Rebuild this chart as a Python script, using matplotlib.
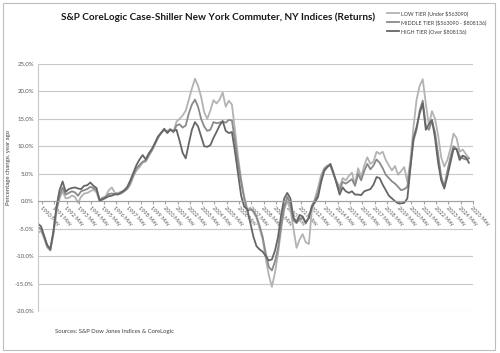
import matplotlib.pyplot as plt
import matplotlib.patches as mpatches
import numpy as np

plt.rcParams["font.family"] = ["Lato", "DejaVu Sans"]

# quarterly samples, year-over-year % change
start_year = 1990.0
high_tier = [
    -4.1, -4.6, -6.3, -8.0, -8.7, -5.5, -1.0, 2.0,
    3.6, 1.7, 2.2, 2.4, 2.5, 2.3, 2.2, 2.8,
    2.9, 3.4, 2.8, 2.4, 0.1, 0.3, 0.6, 0.9,
    1.0, 1.3, 1.2, 1.6, 2.0, 2.6, 3.8, 5.2,
    6.6, 7.6, 8.4, 7.6, 8.7, 9.5, 10.6, 11.8,
    12.4, 13.2, 12.4, 13.0, 12.8, 13.0, 11.0, 8.8,
    7.8, 10.5, 13.0, 14.4, 13.6, 11.8, 10.0, 9.9,
    10.2, 11.5, 12.6, 13.8, 14.6, 12.8, 12.4, 12.6,
    9.0, 5.0, 1.0, -1.0, -1.5, -4.0, -6.5, -8.2,
    -8.8, -9.2, -10.0, -10.8, -10.6, -9.0, -6.5, -2.5,
    0.5, 1.5, 0.5, -3.0, -3.8, -2.5, -2.8, -4.0,
    -3.0, -1.0, -0.2, 0.8, 3.5, 5.5, 6.2, 6.8,
    5.2, 3.2, 1.2, 2.5, 1.8, 1.5, 1.8, 1.2,
    1.2, 1.1, 1.8, 2.0, 2.2, 3.0, 4.4, 4.2,
    3.0, 2.0, 1.0, 0.5, 0.0, -0.4, -0.4, -0.3,
    0.5, 6.0, 11.5, 13.5, 16.0, 17.8, 13.0, 14.0,
    14.8, 11.5, 7.0, 3.8, 2.3, 4.5, 7.0, 9.5,
    9.5, 7.5, 8.3, 8.0, 7.0,
]
middle_tier = [
    -4.8, -5.0, -6.5, -8.2, -8.9, -5.8, -1.5, 1.0,
    2.5, 1.2, 1.5, 1.8, 1.6, 1.0, 1.8, 2.0,
    2.2, 2.6, 2.4, 2.0, 0.3, 0.6, 0.8, 1.3,
    1.4, 1.2, 1.3, 1.4, 1.8, 2.3, 3.4, 4.8,
    6.0, 6.6, 7.2, 7.4, 8.5, 9.3, 10.5, 11.6,
    12.5, 13.0, 12.6, 13.0, 12.6, 13.8, 14.0, 13.4,
    13.8, 16.0, 17.6, 18.5, 17.2, 15.0, 13.6, 12.8,
    13.0, 14.4, 14.2, 14.3, 14.5, 14.3, 14.8, 14.7,
    11.0, 7.0, 3.5, 0.5, -1.8, -1.5, -1.8, -2.8,
    -4.5, -6.5, -9.5, -12.0, -12.6, -11.0, -8.5, -4.5,
    -1.0, 0.8, -0.5, -3.5, -4.0, -3.2, -3.0, -3.8,
    -3.0, -0.8, 0.2, 1.5, 4.0, 5.8, 6.3, 6.6,
    5.0, 3.5, 2.0, 3.5, 3.2, 3.6, 4.0, 2.8,
    5.0, 3.8, 5.5, 6.8, 5.8, 6.5, 7.6, 7.0,
    6.0, 4.8, 4.2, 3.6, 3.2, 2.6, 2.0, 2.2,
    2.6, 6.5, 11.0, 13.0, 16.5, 18.3, 13.8, 13.0,
    14.6, 12.5, 8.5, 4.5, 2.6, 5.5, 8.0, 10.0,
    9.5, 8.2, 7.8, 7.6, 7.8,
]
low_tier = [
    -5.8, -5.4, -6.8, -8.4, -9.0, -6.0, -1.8, 0.5,
    1.8, 0.5, 0.6, 1.0, 0.8, -0.3, 0.8, 1.4,
    1.5, 1.8, 2.1, 1.6, 0.0, 0.5, 0.9, 2.0,
    2.5, 1.5, 1.5, 1.7, 1.8, 2.2, 3.0, 4.5,
    5.6, 6.2, 7.0, 7.2, 8.2, 9.2, 10.3, 11.5,
    12.4, 12.9, 12.8, 13.2, 12.5, 14.5, 15.0, 15.6,
    16.5, 18.5, 20.5, 22.3, 21.0, 19.0, 16.2, 15.0,
    16.5, 18.4, 17.8, 18.5, 19.8, 17.2, 18.3, 17.6,
    13.0, 8.0, 4.0, 0.8, -1.5, -1.2, -2.0, -3.0,
    -5.0, -7.0, -10.5, -13.5, -15.6, -13.0, -9.5, -5.0,
    -1.5, 0.0, -1.5, -5.0, -8.5, -7.0, -6.0, -7.5,
    -7.8, -1.5, 0.5, 2.5, 4.8, 6.0, 6.5, 6.4,
    4.8, 3.6, 2.6, 4.2, 3.8, 4.6, 5.2, 3.0,
    6.0, 4.4, 6.5, 8.0, 6.8, 7.2, 9.0, 8.6,
    9.0, 7.5, 6.5, 5.6, 6.4, 4.8, 5.5, 6.2,
    3.5, 7.5, 13.5, 18.5, 21.0, 22.2, 17.8, 13.8,
    16.4, 15.0, 12.0, 8.0, 6.3, 7.5, 9.5, 12.3,
    11.5, 9.0, 9.4, 8.6, 7.8,
]
series_names = [
    "LOW TIER (Under \\$563090)",
    "MIDDLE TIER (\\$563090 - \\$808136)",
    "HIGH TIER (Over \\$808136)",
]
label_years = list(range(1990, 2026))

t = start_year + 0.25 * np.arange(len(high_tier))

fig = plt.figure(figsize=(5, 3.53), dpi=100)
fig.patches.append(mpatches.Rectangle((0.006, 0.008), 0.984, 0.984, transform=fig.transFigure,
                                      fill=False, edgecolor="#bdbdbd", lw=0.8))
ax = fig.add_axes([0.076, 0.119, 0.87, 0.70])

colors = ["#b3b3b3", "#8a8a8a", "#666666"]
for vals, c, name in zip([low_tier, middle_tier, high_tier], colors, series_names):
    ax.plot(t, vals, color=c, lw=1.3, label=name)

ax.set_xlim(1990.0, 2025.1)
ax.set_ylim(-20, 25)
ax.set_yticks(np.arange(-20, 26, 5))
ax.set_yticklabels([f"{v:.1f}%" for v in np.arange(-20, 26, 5)])
ax.grid(axis="y", color="#c8c8c8", lw=0.8)
ax.set_axisbelow(True)
ax.tick_params(axis="y", labelsize=4.3, labelcolor="#595959", length=0, pad=3)

for s in ["top", "right"]:
    ax.spines[s].set_visible(False)
ax.spines["left"].set_color("#c8c8c8")
ax.spines["bottom"].set_position(("data", 0))
ax.spines["bottom"].set_color("#a0a0a0")
ax.spines["bottom"].set_linewidth(0.8)

ax.set_xticks([y + 4 / 12 for y in label_years])
ax.set_xticklabels([f"{y} May" for y in label_years], rotation=-45, ha="left",
                   va="top", rotation_mode="anchor")
ax.tick_params(axis="x", labelsize=4.0, labelcolor="#595959", length=2,
               color="#a0a0a0", pad=1)

fig.text(0.017, 0.525, "Percentage change, year ago", rotation=90, ha="center",
         va="center", fontsize=4.3, color="#404040")
fig.text(0.436, 0.952, "S&P CoreLogic Case-Shiller New York Commuter, NY Indices (Returns)",
         ha="center", va="center", fontsize=7.2, fontweight="bold", color="#1a1a1a")
fig.text(0.11, 0.062, "Sources: S&P Dow Jones Indices & CoreLogic", ha="left",
         va="center", fontsize=4.3, color="#404040")

fig.legend(loc="upper left", bbox_to_anchor=(0.765, 0.985), frameon=False,
           fontsize=3.9, handlelength=2.2, handletextpad=0.3, labelspacing=0.55,
           labelcolor="#404040")

fig.savefig("out.png", dpi=100)
